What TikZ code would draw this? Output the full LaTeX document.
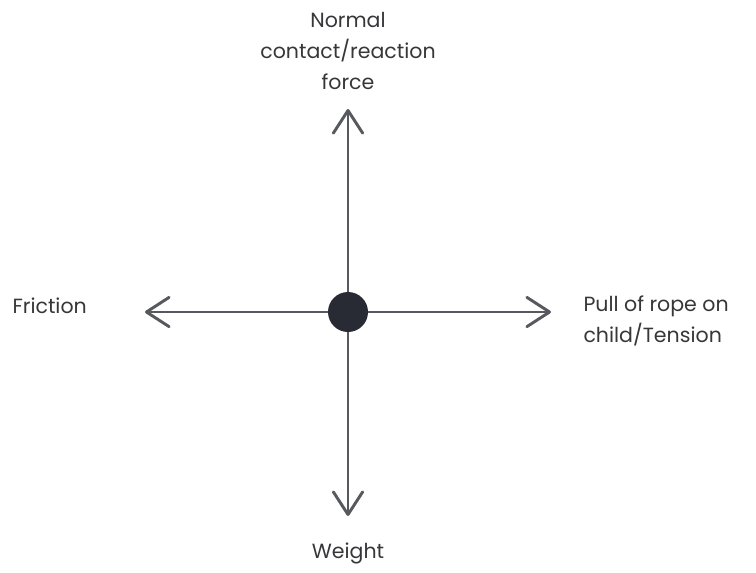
\documentclass[tikz,border=0pt]{standalone}
\usepackage{fontspec}
\setmainfont{Poppins}
\usetikzlibrary{arrows.meta}

\definecolor{forceline}{RGB}{88,89,94}
\definecolor{bodyfill}{RGB}{40,43,52}
\definecolor{labeltext}{RGB}{55,55,58}

\tikzset{every picture/.style={line width=0.75pt}}
\tikzset{
  force/.style={color=forceline, line width=2.2pt, line cap=round,
    -{Straight Barb[length=17pt,width=22pt,line width=2.2pt,round]}},
  bodydot/.style={circle, fill=bodyfill, inner sep=0pt, minimum size=30pt},
  forcelabel/.style={inner sep=0.75pt, text=labeltext, font=\fontsize{15.4}{23.2}\selectfont},
}

\begin{document}
\begin{tikzpicture}[x=0.75pt,y=0.75pt,yscale=-1,xscale=1]
		\useasboundingbox (0,0) rectangle (756,572);

		% centre of the body and the arrow tips
		\coordinate (centre) at (348,312);
		\coordinate (tipN) at (348,109);
		\coordinate (tipS) at (348,516);
		\coordinate (tipW) at (145,312);
		\coordinate (tipE) at (551,312);

		%Straight Lines
		\draw [force] (centre) -- (tipN);
		\draw [force] (centre) -- (tipS);
		\draw [force] (centre) -- (tipW);
		\draw [force] (centre) -- (tipE);
		%Shape: Ellipse
		\node [bodydot] (body) at (centre) {};

		% Text Node
		\node [forcelabel, align=center] (normal) at (348,51) {Normal\\contact/reaction\\force};
		% Text Node
		\node [forcelabel, anchor=west] (friction) at (11,306) {Friction};
		% Text Node
		\node [forcelabel, anchor=west, align=left] (tension) at (582,321) {Pull of rope on\\child/Tension};
		% Text Node
		\node [forcelabel] (weight) at (348,553) {Weight};
	\end{tikzpicture}
\end{document}
